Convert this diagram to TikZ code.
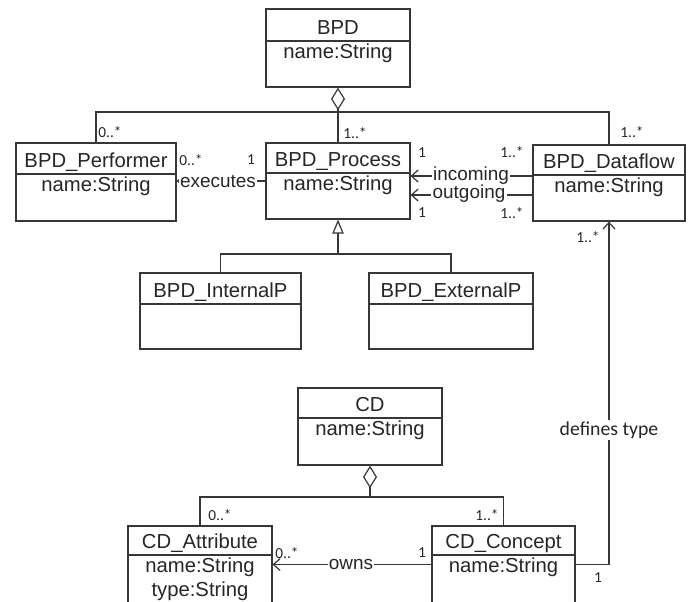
\documentclass[tikz,border=0pt]{standalone}
\usepackage{fontspec}
\setmainfont{Liberation Sans}
\newfontfamily\mulfont{Carlito}
\usetikzlibrary{arrows.meta}
\definecolor{ink}{RGB}{38,38,38}
\definecolor{edge}{RGB}{55,55,55}
\tikzset{
  umlline/.style={draw=edge, line width=0.9pt},
  clsbox/.style={draw=edge, line width=0.9pt, fill=white, inner sep=0pt, rectangle},
  clstitle/.style={anchor=base, inner sep=0pt, text=ink, font=\fontsize{15.2}{17}\selectfont},
  clsattr/.style={anchor=base, inner sep=0pt, text=ink, font=\fontsize{15.2}{17}\selectfont},
  lbl/.style={fill=white, inner sep=1pt, text=ink, font=\fontsize{14.2}{16}\selectfont},
  lblc/.style={fill=white, inner sep=1.5pt, text=ink, font=\mulfont\fontsize{14.8}{16}\selectfont},
  mult/.style={inner sep=0pt, text=ink, font=\mulfont\fontsize{11.5}{13}\selectfont},
  openarr/.style={-{Straight Barb[length=5pt,width=9pt]}},
  aggr/.style={-{Diamond[open,fill=white,length=17pt,width=10.5pt]}},
  gener/.style={-{Triangle[open,fill=white,length=10.5pt,width=8.5pt]}}
}
\newcommand{\umlclass}[8]{%
  \node[clsbox, minimum width={(#4-#2)*0.75pt}, minimum height={(#5-#3)*0.75pt}] (#1) at ({(#2+#4)/2},{(#3+#5)/2}) {};
  \draw[umlline] (#2,#6) -- (#4,#6);
  \node[clstitle] (#1-t) at ({(#2+#4)/2},{#6-7}) {#7};
  \node[clsattr] (#1-a) at ({(#2+#4)/2},{#6+17.5}) {#8};
}
\begin{document}
\begin{tikzpicture}[x=0.75pt,y=-0.75pt]
\useasboundingbox (0,0) rectangle (694,601);
\fill[white] (0,0) rectangle (694,601);
\clip (0,0) rectangle (694,601);

% classes
\umlclass{bpd}{266}{9}{410}{87}{41}{BPD}{name:String}
\umlclass{pf}{16}{143}{176}{221}{174}{BPD\_Performer}{name:String}
\umlclass{pr}{266}{143}{410}{219}{173}{BPD\_Process}{name:String}
\umlclass{df}{533}{145}{685}{221}{175}{BPD\_Dataflow}{name:String}
\umlclass{ip}{140}{273}{301}{349}{304}{BPD\_InternalP}{}
\umlclass{ep}{369}{273}{533}{349}{304}{BPD\_ExternalP}{}
\umlclass{cd}{298}{388}{442}{465}{418}{CD}{name:String}
\umlclass{ca}{128}{526}{272}{603}{555}{CD\_Attribute}{name:String}
\node[clsattr] (ca-b) at (200,596.5) {type:String};
\umlclass{cc}{432}{526}{575}{603}{555}{CD\_Concept}{name:String}

% aggregation BPD
\coordinate (hb) at (338,112);
\draw[umlline, aggr] (hb) -- (bpd.south);
\draw[umlline] (pf.north) |- (hb) -| (df.north);
\draw[umlline] (hb) -- (pr.north);

% generalization
\coordinate (gb) at (338,254);
\draw[umlline, gener] (gb) -- (pr.south);
\draw[umlline] (ip.north) |- (gb) -| (ep.north);

% associations
\draw[umlline, openarr] (pr.west) -- (pr.west -| pf.east);
\draw[umlline, openarr] ([yshift=5.25pt]df.west) -- ([yshift=5.25pt]df.west -| pr.east);
\draw[umlline, openarr] ([yshift=-9pt]df.west) -- ([yshift=-9pt]df.west -| pr.east);

% aggregation CD
\coordinate (hc) at (370,497);
\draw[umlline, aggr] (hc) -- (cd.south);
\draw[umlline] (ca.north) |- (hc) -| (cc.north);

\draw[umlline, openarr] (cc.west) -- (ca.east);
\draw[umlline, openarr] (cc.east) -| (df.south);

% labels
\node[lbl] (lex) at (218,181) {executes};
\node[lbl] (lin) at (471,176) {incoming};
\node[lbl] (lout) at (469,194) {outgoing};
\node[lbl] (lown) at (351,564) {owns};
\node[lblc] (ldef) at (609,430) {defines type};

% multiplicities
\node[mult] (m1) at (110,132) {0..*};
\node[mult] (m2) at (355,133) {1..*};
\node[mult] (m3) at (632,132) {1..*};
\node[mult] (m4) at (191,160) {0..*};
\node[mult] (m5) at (251,160) {1};
\node[mult] (m6) at (422,153) {1};
\node[mult] (m7) at (512,152) {1..*};
\node[mult] (m8) at (422,213) {1};
\node[mult] (m9) at (512,213) {1..*};
\node[mult] (m10) at (588,237) {1..*};
\node[mult] (m11) at (220,515) {0..*};
\node[mult] (m12) at (487,515) {1..*};
\node[mult] (m13) at (287,553) {0..*};
\node[mult] (m14) at (422,553) {1};
\node[mult] (m15) at (598,578) {1};
\end{tikzpicture}
\end{document}
